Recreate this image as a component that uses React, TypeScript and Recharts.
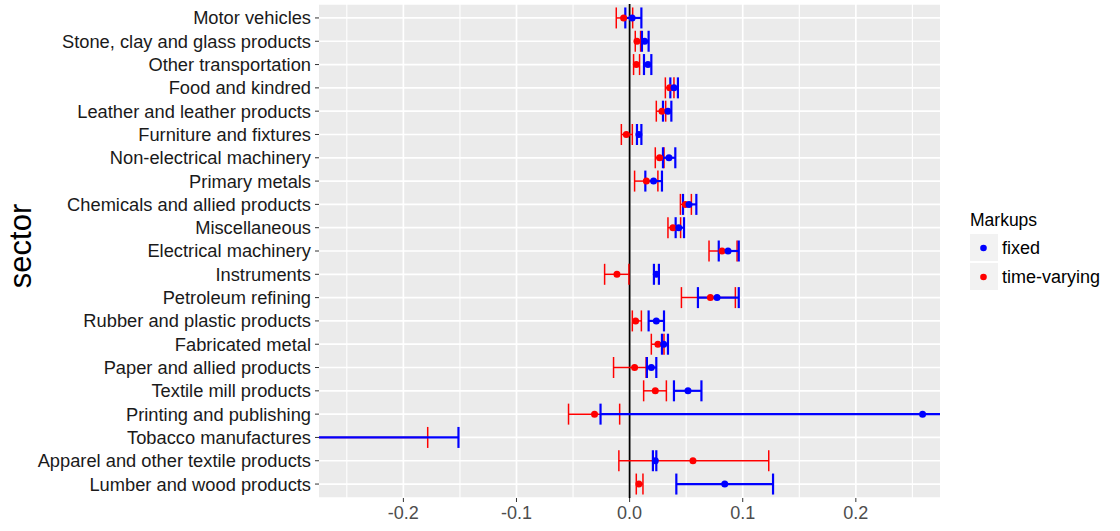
import React from 'react';
import { ScatterChart, Scatter, XAxis, YAxis, CartesianGrid, ErrorBar, ReferenceLine, Legend } from 'recharts';

const sectors = [
  'Motor vehicles',
  'Stone, clay and glass products',
  'Other transportation',
  'Food and kindred',
  'Leather and leather products',
  'Furniture and fixtures',
  'Non-electrical machinery',
  'Primary metals',
  'Chemicals and allied products',
  'Miscellaneous',
  'Electrical machinery',
  'Instruments',
  'Petroleum refining',
  'Rubber and plastic products',
  'Fabricated metal',
  'Paper and allied products',
  'Textile mill products',
  'Printing and publishing',
  'Tobacco manufactures',
  'Apparel and other textile products',
  'Lumber and wood products',
];

const fixedMid = [0.0022, 0.0133, 0.0162, 0.0392, 0.0339, 0.0082, 0.0348, 0.0212, 0.0525, 0.0434, 0.087, 0.0236, 0.0773, 0.0236, 0.0301, 0.0192, 0.0516, 0.259, -0.36, 0.0227, 0.0841];
const fixedLo = [-0.0038, 0.0109, 0.0127, 0.036, 0.0295, 0.0065, 0.0295, 0.0139, 0.0472, 0.0407, 0.0788, 0.0215, 0.0604, 0.0168, 0.0286, 0.0153, 0.0392, -0.0257, -0.57, 0.0206, 0.0413];
const fixedHi = [0.0104, 0.0168, 0.0192, 0.0427, 0.0369, 0.0104, 0.0404, 0.0286, 0.059, 0.0481, 0.0965, 0.0259, 0.0965, 0.0304, 0.0339, 0.0236, 0.0635, 0.544, -0.1513, 0.0236, 0.1268];

const tvMid = [-0.0053, 0.0065, 0.0059, 0.0354, 0.0286, -0.0029, 0.0265, 0.0148, 0.0493, 0.0383, 0.0817, -0.0112, 0.0714, 0.0053, 0.025, 0.0044, 0.0227, -0.031, -0.4, 0.056, 0.0082];
const tvLo = [-0.0118, 0.005, 0.0035, 0.0316, 0.0236, -0.0073, 0.0227, 0.0044, 0.0449, 0.0339, 0.0702, -0.0221, 0.0458, 0.0024, 0.0192, -0.0142, 0.0124, -0.054, -0.62, -0.0095, 0.0059];
const tvHi = [0.0027, 0.0097, 0.0088, 0.0392, 0.0319, 0.0024, 0.0304, 0.025, 0.0546, 0.0451, 0.095, -0.0006, 0.0935, 0.0104, 0.0304, 0.0146, 0.0325, -0.0088, -0.1785, 0.123, 0.0118];

const xTicks = [-0.2, -0.1, 0, 0.1, 0.2];
const xMinorTicks = [-0.25, -0.15, -0.05, 0.05, 0.15, 0.25];
const xDomain: [number, number] = [-0.2746, 0.2744];

const build = (mid: number[], lo: number[], hi: number[]) =>
  sectors.map((s, i) => ({ sector: s, x: mid[i], err: [mid[i] - lo[i], hi[i] - mid[i]] }));

const fixedData = build(fixedMid, fixedLo, fixedHi);
const tvData = build(tvMid, tvLo, tvHi);

const FONT = '"Liberation Sans", Arial, sans-serif';

const dot = (color: string) => (p: any) => <circle cx={p.cx} cy={p.cy} r={3.5} fill={color} />;

const legendOrder = ['fixed', 'time-varying'];

const renderLegend = (props: any) => {
  const items = [...(props.payload || [])].sort(
    (a: any, b: any) => legendOrder.indexOf(a.value) - legendOrder.indexOf(b.value)
  );
  return (
    <div style={{ position: 'relative', width: 150, height: 90, fontFamily: FONT }}>
      <div style={{ position: 'absolute', left: 0, top: 4, fontSize: 17.5, lineHeight: '22px', color: '#000', whiteSpace: 'nowrap' }}>Markups</div>
      {items.map((it: any, i: number) => (
        <div key={it.value} style={{ position: 'absolute', left: 0, top: 28.5 + i * 29.2, height: 27.7, width: 150 }}>
          <div style={{ position: 'absolute', left: 0, top: 0, width: 28, height: 27.7, background: '#F2F2F2' }}>
            <svg width={28} height={28} style={{ position: 'absolute', left: 0, top: 0 }}>
              <circle cx={13.5} cy={14} r={3.3} fill={it.color} />
            </svg>
          </div>
          <div style={{ position: 'absolute', left: 32, top: 1, fontSize: 18, lineHeight: '27.7px', color: '#000', whiteSpace: 'nowrap' }}>{it.value}</div>
        </div>
      ))}
    </div>
  );
};

const SectorLabel = (p: any) => {
  const vb = p.viewBox || { x: 0, y: 0, width: 0, height: 0 };
  const x = vb.x + 20;
  const y = vb.y + vb.height / 2 - 5;
  return (
    <text x={x} y={y} transform={`rotate(-90, ${x}, ${y})`} textAnchor="middle" dominantBaseline="central" fontSize={31} fill="#000" fontFamily={FONT}>
      {p.value}
    </text>
  );
};

const clipCss = `
.recharts-errorBars, .recharts-errorBar { clip-path: url(#clipPath-fx); }
`;

export default function App() {
  return (
    <div style={{ position: 'absolute', left: 0, top: 0, width: 1120, height: 531, background: '#fff', fontFamily: FONT }}>
      <style>{clipCss}</style>
      <ScatterChart width={1120} height={531} margin={{ top: 4, right: 180, bottom: 0, left: 0 }}>
        <CartesianGrid fill="#EBEBEB" stroke="#FFFFFF" strokeWidth={1.7} vertical={false} />
        {xMinorTicks.map((v) => (
          <ReferenceLine key={'m' + v} x={v} stroke="#FFFFFF" strokeWidth={1.1} />
        ))}
        {xTicks.map((v) => (
          <ReferenceLine key={'M' + v} x={v} stroke="#FFFFFF" strokeWidth={1.7} />
        ))}
        <XAxis
          type="number"
          dataKey="x"
          domain={xDomain}
          allowDataOverflow
          ticks={xTicks}
          tickFormatter={(v: number) => v.toFixed(1)}
          axisLine={false}
          tickLine={{ stroke: '#333333' }}
          tickSize={4}
          tickMargin={4}
          height={33}
          tick={{ fill: '#4D4D4D', fontSize: 18 }}
        />
        <YAxis
          type="category"
          dataKey="sector"
          allowDuplicatedCategory={false}
          reversed
          width={319}
          interval={0}
          axisLine={false}
          tickLine={{ stroke: '#333333' }}
          tickSize={4}
          tickMargin={4}
          padding={{ top: 2.3, bottom: 2.3 }}
          tick={{ fill: '#1A1A1A', fontSize: 18.3 }}
          label={{ value: 'sector', content: SectorLabel }}
        />
        <ReferenceLine x={0} stroke="#000000" strokeWidth={1.8} />
        <Legend
          layout="horizontal"
          verticalAlign="middle"
          align="center"
          wrapperStyle={{ left: 970, top: 205, width: 150, height: 90 }}
          content={renderLegend}
        />
        <Scatter id="tv" name="time-varying" data={tvData} fill="#FF0000" shape={dot('#FF0000')} isAnimationActive={false}>
          <ErrorBar dataKey="err" direction="x" width={10.5} stroke="#FF0000" strokeWidth={1.5} isAnimationActive={false} />
        </Scatter>
        <Scatter id="fx" name="fixed" data={fixedData} fill="#0000FF" shape={dot('#0000FF')} isAnimationActive={false}>
          <ErrorBar dataKey="err" direction="x" width={10.5} stroke="#0000FF" strokeWidth={2.2} isAnimationActive={false} />
        </Scatter>
      </ScatterChart>
    </div>
  );
}
